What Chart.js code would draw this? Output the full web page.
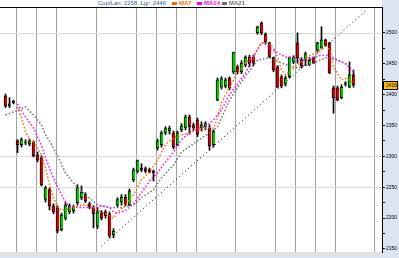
<!DOCTYPE html>
<html>
<head>
<meta charset="utf-8">
<script src="https://cdn.jsdelivr.net/npm/chart.js@4"></script>
<style>
  html, body { margin: 0; padding: 0; background: #fff; }
  #wrap { width: 399px; height: 258px; }
</style>
</head>
<body>
<div id="wrap"><canvas id="chart" width="399" height="258"></canvas></div>
<script>
// daily candles, first one sits at slot 1
const startIdx = 1;
const opens = [
  2398, 2382, 2387, 2325, 2319, 2322, 2320, 2323, 2302, 2298,
  2230, 2246, 2220, 2217, 2181, 2200, 2210, 2212, 2225, 2233,
  2238, 2223, 2217, 2187, 2208, 2210, 2207, 2173, 2221, 2226,
  2234, 2221, 2262, 2276, 2281, 2280, 2278, 2276, 2314, 2319,
  2338, 2341, 2338, 2319, 2343, 2346, 2364, 2351, 2359, 2346,
  2348, 2346, 2319, 2391, 2412, 2414, 2427, 2437, 2445, 2437,
  2448, 2461, 2461, 2500, 2516, 2498, 2484, 2460, 2445, 2429,
  2417, 2429, 2453, 2484, 2456, 2456, 2448, 2460, 2472, 2476,
  2489, 2484, 2411, 2411, 2395, 2417, 2412, 2432
];
const highs = [
  2401, 2395, 2391, 2327, 2330, 2327, 2328, 2325, 2307, 2301,
  2252, 2249, 2223, 2220, 2208, 2225, 2223, 2221, 2254, 2252,
  2241, 2226, 2220, 2217, 2212, 2213, 2210, 2183, 2233, 2238,
  2238, 2247, 2281, 2294, 2288, 2283, 2281, 2278, 2328, 2341,
  2348, 2349, 2341, 2341, 2353, 2367, 2367, 2354, 2362, 2356,
  2356, 2351, 2343, 2427, 2429, 2427, 2429, 2469, 2448, 2455,
  2463, 2464, 2464, 2511, 2518, 2500, 2485, 2461, 2447, 2432,
  2430, 2461, 2463, 2500, 2460, 2469, 2460, 2461, 2485, 2510,
  2490, 2485, 2414, 2414, 2416, 2421, 2453, 2440
];
const lows = [
  2379, 2379, 2385, 2306, 2315, 2319, 2317, 2299, 2291, 2252,
  2226, 2213, 2207, 2176, 2179, 2197, 2207, 2208, 2221, 2230,
  2225, 2215, 2184, 2183, 2197, 2200, 2168, 2168, 2218, 2221,
  2220, 2220, 2259, 2273, 2275, 2273, 2273, 2260, 2310, 2315,
  2335, 2336, 2312, 2317, 2340, 2343, 2336, 2343, 2332, 2341,
  2343, 2310, 2315, 2390, 2409, 2411, 2408, 2434, 2434, 2434,
  2445, 2445, 2447, 2498, 2497, 2482, 2460, 2437, 2411, 2411,
  2414, 2427, 2450, 2451, 2443, 2447, 2447, 2450, 2469, 2474,
  2479, 2434, 2370, 2390, 2393, 2414, 2411, 2412
];
const closes = [
  2382, 2385, 2390, 2319, 2327, 2323, 2325, 2301, 2294, 2254,
  2249, 2220, 2210, 2179, 2205, 2221, 2220, 2218, 2249, 2242,
  2228, 2218, 2207, 2210, 2200, 2204, 2171, 2179, 2230, 2234,
  2223, 2244, 2278, 2293, 2278, 2276, 2275, 2273, 2325, 2338,
  2345, 2346, 2315, 2338, 2349, 2364, 2348, 2346, 2336, 2351,
  2353, 2317, 2340, 2424, 2426, 2424, 2411, 2468, 2437, 2451,
  2461, 2450, 2451, 2510, 2500, 2485, 2461, 2440, 2412, 2414,
  2427, 2460, 2460, 2460, 2447, 2466, 2456, 2451, 2484, 2489,
  2481, 2435, 2395, 2391, 2412, 2419, 2432, 2416
];

// moving averages: [slot, value]
const ma7 = [
  [4, 2380], [5, 2362], [6, 2340], [7, 2328], [8, 2322], [9, 2314], [10, 2302],
  [11, 2281], [12, 2254], [13, 2233], [14, 2218], [15, 2213], [16, 2213], [17, 2215],
  [18, 2217], [20, 2221], [22, 2221], [24, 2213], [26, 2207], [28, 2200], [29, 2210],
  [31, 2221], [32, 2230], [33, 2238], [35, 2262], [37, 2275], [39, 2294], [41, 2319],
  [43, 2330], [45, 2335], [47, 2338], [49, 2345], [51, 2346], [53, 2346], [54, 2362],
  [55, 2387], [57, 2412], [59, 2435], [61, 2451], [63, 2464], [65, 2484], [66, 2485],
  [67, 2482], [68, 2476], [69, 2461], [70, 2440], [71, 2432], [72, 2437], [73, 2443],
  [75, 2453], [77, 2463], [79, 2469], [81, 2481], [82, 2472], [83, 2445], [84, 2434],
  [85, 2424], [86, 2426], [87, 2424], [88, 2419]
];
const ma14 = [
  [4, 2385], [6, 2364], [8, 2346], [10, 2317], [11, 2298], [13, 2265], [15, 2238],
  [16, 2226], [17, 2218], [20, 2217], [24, 2217], [25, 2220], [27, 2217], [28, 2210],
  [29, 2208], [31, 2212], [33, 2223], [35, 2241], [37, 2260], [39, 2273], [41, 2291],
  [43, 2307], [45, 2327], [47, 2338], [49, 2345], [51, 2348], [53, 2359], [55, 2375],
  [57, 2400], [59, 2417], [61, 2435], [63, 2461], [65, 2484], [66, 2482], [67, 2476],
  [69, 2468], [71, 2461], [73, 2460], [76, 2455], [78, 2460], [80, 2464], [82, 2464],
  [84, 2456], [86, 2450], [88, 2437]
];
const ma21 = [
  [1, 2367], [3, 2372], [6, 2380], [8, 2367], [10, 2351], [11, 2335], [12, 2325],
  [14, 2301], [16, 2273], [19, 2249], [21, 2238], [24, 2221], [27, 2217], [30, 2217],
  [33, 2221], [35, 2233], [38, 2246], [40, 2265], [43, 2286], [45, 2307], [49, 2325],
  [52, 2338], [54, 2348], [57, 2391], [60, 2421], [64, 2456], [67, 2460], [70, 2451],
  [74, 2443], [78, 2451], [81, 2460], [84, 2456], [87, 2447]
];
const trendLine = [[25, 2155], [91.25, 2537]];

const maNames = ["MA7", "MA14", "MA21"];
const maColors = ["#ff6600", "#ff00ff", "#707070"];
const infoText = "Cup/Lan: 2258  Lgr: 2446";

// week separators (slot positions) and highlighted price levels
const weekLines = [3.75, 8.75, 13.75, 23.75, 33.75, 38.75, 43.75, 48.75, 58.5, 68.5, 73.5, 78.5, 83.5, 93.25];
const hLines = [2500, 2300, 2250];

const bodies = opens.map((o, k) => ({ x: k + startIdx, y: [o, closes[k]] }));
const wicks = lows.map((l, k) => ({ x: k + startIdx, y: [l, highs[k]] }));
const bodyColors = opens.map((o, k) => closes[k] >= o ? "#00c800" : "#d40000");
const toPts = arr => arr.map(p => ({ x: p[0], y: p[1] }));

const decor = {
  id: "decor",
  beforeDraw(chart) {
    const { ctx, chartArea: a, width, height } = chart;
    ctx.save();
    ctx.fillStyle = "#dbe4f0";
    ctx.fillRect(0, 0, width, height);
    ctx.fillStyle = "#fff";
    ctx.fillRect(0, 0, a.right, a.bottom);
    ctx.restore();
  },
  beforeDatasetsDraw(chart) {
    const { ctx, chartArea: a } = chart;
    const ys = chart.scales.y;
    ctx.save();
    ctx.strokeStyle = "#d9d9d9";
    ctx.lineWidth = 1;
    hLines.forEach(v => {
      const y = Math.round(ys.getPixelForValue(v)) + 0.5;
      ctx.beginPath();
      ctx.moveTo(a.left, y);
      ctx.lineTo(a.right, y);
      ctx.stroke();
    });
    ctx.restore();
  },
  afterDraw(chart) {
    const { ctx, chartArea: a } = chart;
    const ys = chart.scales.y;
    ctx.save();
    // top frame line
    ctx.strokeStyle = "#000";
    ctx.lineWidth = 1;
    ctx.beginPath();
    ctx.moveTo(0, a.top + 0.5);
    ctx.lineTo(a.right, a.top + 0.5);
    ctx.stroke();
    // pale strip under the plot
    ctx.strokeStyle = "#eadfa8";
    ctx.beginPath();
    ctx.moveTo(0, a.bottom + 0.5);
    ctx.lineTo(a.right - 1, a.bottom + 0.5);
    ctx.stroke();

    // legend row
    ctx.font = "6px 'Liberation Sans'";
    ctx.textBaseline = "middle";
    ctx.fillStyle = "#2f5f9a";
    ctx.fillText(infoText, 98, 3.5);
    let x = 172;
    maNames.forEach((n, k) => {
      ctx.fillStyle = maColors[k];
      ctx.fillRect(x, 2, 5, 3);
      ctx.font = "bold 6px 'Liberation Sans'";
      ctx.fillText(n, x + 7, 3.5);
      x += 25;
    });

    // last price box
    const last = closes[closes.length - 1];
    const py = Math.round(ys.getPixelForValue(last));
    ctx.fillStyle = "#ffc000";
    ctx.fillRect(a.right + 1, py - 4, 15, 9);
    ctx.strokeStyle = "#000";
    ctx.strokeRect(a.right + 1.5, py - 3.5, 14, 8);
    ctx.fillStyle = "#000";
    ctx.font = "5px 'Liberation Sans'";
    ctx.fillText(String(last), a.right + 4, py + 0.5);
    ctx.restore();
  }
};

new Chart(document.getElementById("chart"), {
  type: "bar",
  data: {
    datasets: [
      {
        type: "line", data: toPts(trendLine), borderColor: "#000", borderWidth: 1,
        borderDash: [1, 3], pointRadius: 0, order: 0
      },
      {
        type: "line", data: toPts(ma7), borderColor: maColors[0], borderWidth: 1.5,
        borderDash: [1.5, 2], pointRadius: 0, order: 0
      },
      {
        type: "line", data: toPts(ma14), borderColor: maColors[1], borderWidth: 1.5,
        borderDash: [1.5, 2], pointRadius: 0, order: 0
      },
      {
        type: "line", data: toPts(ma21), borderColor: maColors[2], borderWidth: 1.5,
        borderDash: [1.5, 2], pointRadius: 0, order: 0
      },
      {
        data: bodies, backgroundColor: bodyColors, borderColor: "#000",
        borderWidth: { left: 1, right: 0, top: 1, bottom: 1 }, borderSkipped: false,
        barThickness: 3, grouped: false, order: 1
      },
      {
        data: wicks, backgroundColor: "#000", borderWidth: 0,
        barThickness: 1, grouped: false, order: 2
      }
    ]
  },
  options: {
    responsive: false,
    devicePixelRatio: 1,
    animation: false,
    layout: { padding: { top: 7, left: 0, right: 0, bottom: 0 } },
    plugins: { legend: { display: false }, tooltip: { enabled: false } },
    scales: {
      x: {
        type: "linear",
        min: -0.375,
        max: 95.125,
        offset: false,
        afterBuildTicks: s => { s.ticks = weekLines.map(v => ({ value: v })); },
        afterFit: s => { s.height = 6; },
        ticks: { display: false },
        grid: { color: "#a0a0a0", drawTicks: false, offset: false },
        border: { display: false }
      },
      y: {
        position: "right",
        min: 2145,
        max: 2542,
        afterFit: s => { s.width = 17; },
        ticks: {
          stepSize: 25,
          includeBounds: false,
          padding: 1,
          color: "#000",
          font: { family: "Liberation Sans", size: 5 },
          callback: v => (v % 50 === 0 && v <= 2500) ? String(v) : ""
        },
        grid: {
          drawOnChartArea: false,
          tickColor: c => c.tick.value > 2500 ? "rgba(0,0,0,0)" : "#000",
          tickLength: 3
        },
        border: { display: true, color: "#000", width: 1 }
      }
    }
  },
  plugins: [decor]
});
</script>
</body>
</html>
